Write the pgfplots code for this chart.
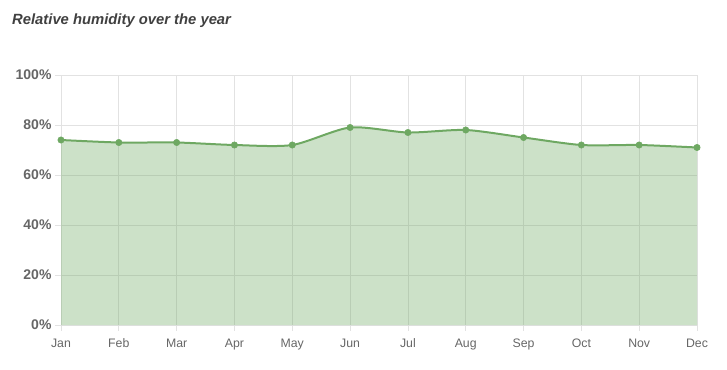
\documentclass[border=0pt]{standalone}
\usepackage{pgfplots}
\pgfplotsset{compat=1.18}
\usepackage{fontspec}
\setmainfont{Liberation Sans}
\definecolor{lg}{HTML}{6EA862}
\definecolor{gridc}{HTML}{E2E2E2}
\definecolor{txt}{HTML}{666666}
\definecolor{ttl}{HTML}{404040}
\begin{document}
\begin{tikzpicture}
\useasboundingbox (0,0) rectangle (727pt,369pt);
\node[anchor=base west, font=\fontsize{14.8}{17}\selectfont\bfseries\itshape, text=ttl, inner sep=0pt] at (12pt,344pt) {Relative humidity over the year};
\begin{axis}[
  at={(61pt,44pt)}, anchor=south west,
  scale only axis, width=636pt, height=250pt,
  xmin=0, xmax=11, ymin=0, ymax=100,
  xtick={0,...,11},
  xticklabels={Jan,Feb,Mar,Apr,May,Jun,Jul,Aug,Sep,Oct,Nov,Dec},
  ytick={0,20,40,60,80,100},
  yticklabels={0\%,20\%,40\%,60\%,80\%,100\%},
  xtick pos=bottom, ytick pos=left,
  tick align=outside, major tick length=6pt,
  grid=major,
  major grid style={gridc, line width=0.8pt},
  axis line style={gridc, line width=0.8pt},
  tick style={gridc, line width=0.8pt},
  xticklabel style={font=\fontsize{12.3}{14}\selectfont, text=txt, anchor=north, text height=9pt, text depth=2.6pt, yshift=-3.5pt},
  yticklabel style={font=\fontsize{14}{16}\selectfont\bfseries, text=txt},
  clip=false,
]
\addplot[draw=none, fill=lg, fill opacity=0.35, smooth, tension=0.45] coordinates {
(0,74) (1,73) (2,73) (3,72) (4,72) (5,79) (6,77) (7,78) (8,75) (9,72) (10,72) (11,71)
} \closedcycle;
\addplot[lg, line width=2pt, smooth, tension=0.45, mark=*, mark size=3.2pt, mark options={solid, fill=lg, draw=lg, line width=0.5pt}] coordinates {
(0,74) (1,73) (2,73) (3,72) (4,72) (5,79) (6,77) (7,78) (8,75) (9,72) (10,72) (11,71)
};
\end{axis}
\end{tikzpicture}
\end{document}
